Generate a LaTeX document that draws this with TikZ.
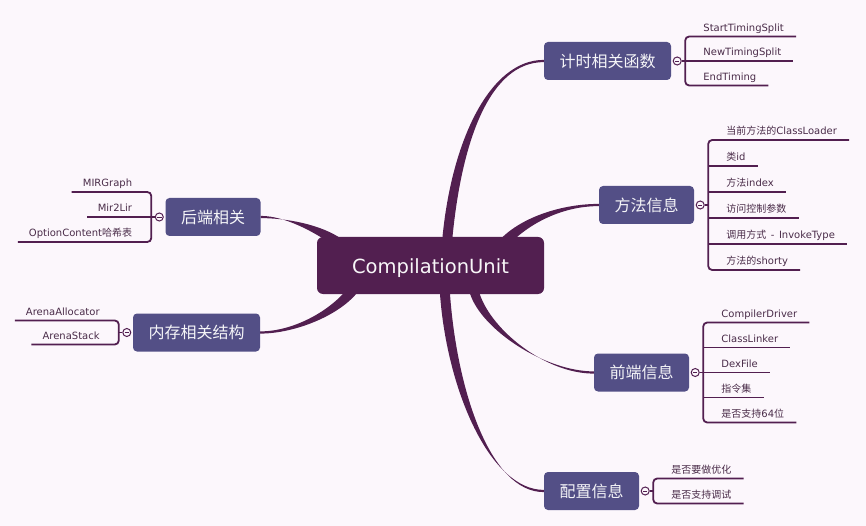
\documentclass[tikz,border=0pt]{standalone}
\usepackage{fontspec}
\setmainfont{DejaVu Sans}
\newfontfamily\cjk{Noto Sans CJK SC}
\usetikzlibrary{calc}

\definecolor{paper}{HTML}{FCF7FC}
\definecolor{plum}{HTML}{521F50}
\definecolor{slate}{HTML}{534F86}
\definecolor{leaftext}{HTML}{4A2C49}

\pgfdeclarelayer{paperlayer}
\pgfdeclarelayer{links}
\pgfsetlayers{paperlayer,links,main}

\newcommand{\zh}[1]{{\cjk #1}}
% tapered branch: start, start half width, control 1, control 2, end, end half width
\newcommand{\taper}[6]{%
  \fill[plum] ($#1+#2$) .. controls ($#3+#2$) and ($#4+#6$) .. ($#5+#6$)
    -- ($#5-#6$) .. controls ($#4-#6$) and ($#3-#2$) .. ($#1-#2$) -- cycle;}

\begin{document}
\begin{tikzpicture}[
x=1pt, y=-1pt,
root/.style={fill=plum, text=white!96!plum, rounded corners=6pt, minimum width=227pt, minimum height=57pt, inner sep=0pt, text height=20.5pt, text depth=4.5pt, font=\fontsize{19.5}{23}\selectfont},
topic/.style={fill=slate, text=white!94!slate, rounded corners=4pt, minimum height=38pt, inner xsep=15.5pt, inner ysep=0pt, font=\cjk\fontsize{16}{19}\selectfont},
fold/.style={circle, draw=plum, line width=1pt, fill=paper, minimum size=8pt, inner sep=0pt,
  path picture={\draw[plum, line width=0.8pt] ([xshift=-2.2pt]path picture bounding box.center) -- ([xshift=2.2pt]path picture bounding box.center);}},
leaf/.style={font=\fontsize{10}{12}\selectfont, text=leaftext, inner xsep=0pt, inner ysep=2.5pt, text height=7.5pt, text depth=2.5pt},
uline/.style={plum, line width=1.8pt, rounded corners=4pt}
]
\useasboundingbox (0,0) rectangle (866,526);
\begin{pgfonlayer}{paperlayer}
\fill[paper] (0,0) rectangle (866,526);
\end{pgfonlayer}

\node[root] (cu) at (430.5,265.5) {CompilationUnit};

% right side
\node[topic] (timing) at (607.5,61) {计时相关函数};
\node[fold] (timing-f) at ($(timing.east)+(6,0)$) {};
\coordinate (timing-b) at ($(timing-f)+(8,0)$);
\foreach \lbl [count=\i] in {StartTimingSplit, NewTimingSplit, EndTiming}
  \node[leaf, anchor=south west] (timing-\i) at ($(timing-b)+(18,{(\i-2)*24.5})$) {\lbl};
\draw[uline] (timing-f) -- (timing-b);
\draw[uline] ($(timing-1.south east)+(12,0)$) -- (timing-1.south -| timing-b) -- (timing-3.south -| timing-b) -- ($(timing-3.south east)+(12,0)$);
\draw[uline] (timing-b |- timing-2.south) -- ($(timing-2.south east)+(12,0)$);

\node[topic] (method) at (646.5,205) {方法信息};
\node[fold] (method-f) at ($(method.east)+(6,0)$) {};
\coordinate (method-b) at ($(method-f)+(8,0)$);
\foreach \lbl [count=\i] in {\zh{当前方法的}ClassLoader, \zh{类}id, \zh{方法}index, \zh{访问控制参数}, \zh{调用方式}\hspace{4.5pt}-\hspace{4.5pt}InvokeType, \zh{方法的}shorty}
  \node[leaf, anchor=south west] (method-\i) at ($(method-b)+(18,{(\i-3.5)*26})$) {\lbl};
\draw[uline] (method-f) -- (method-b);
\draw[uline] ($(method-1.south east)+(12,0)$) -- (method-1.south -| method-b) -- (method-6.south -| method-b) -- ($(method-6.south east)+(12,0)$);
\foreach \i in {2,...,5}
  \draw[uline] (method-b |- method-\i.south) -- ($(method-\i.south east)+(12,0)$);

\node[topic] (front) at (641.5,372.5) {前端信息};
\node[fold] (front-f) at ($(front.east)+(6,0)$) {};
\coordinate (front-b) at ($(front-f)+(8,0)$);
\foreach \lbl [count=\i] in {CompilerDriver, ClassLinker, DexFile, \zh{指令集}, \zh{是否支持}64\zh{位}}
  \node[leaf, anchor=south west] (front-\i) at ($(front-b)+(18,{(\i-3)*25})$) {\lbl};
\draw[uline] (front-f) -- (front-b);
\draw[uline] ($(front-1.south east)+(12,0)$) -- (front-1.south -| front-b) -- (front-5.south -| front-b) -- ($(front-5.south east)+(12,0)$);
\foreach \i in {2,3,4}
  \draw[uline] (front-b |- front-\i.south) -- ($(front-\i.south east)+(12,0)$);

\node[topic] (config) at (591.5,491) {配置信息};
\node[fold] (config-f) at ($(config.east)+(6,0)$) {};
\coordinate (config-b) at ($(config-f)+(8,0)$);
\foreach \lbl [count=\i] in {\zh{是否要做优化}, \zh{是否支持调试}}
  \node[leaf, anchor=south west] (config-\i) at ($(config-b)+(18,{(\i-1.5)*25})$) {\lbl};
\draw[uline] (config-f) -- (config-b);
\draw[uline] ($(config-1.south east)+(12,0)$) -- (config-1.south -| config-b) -- (config-2.south -| config-b) -- ($(config-2.south east)+(12,0)$);

% left side
\node[topic] (back) at (213,217) {后端相关};
\node[fold] (back-f) at ($(back.west)+(-6,0)$) {};
\coordinate (back-b) at ($(back-f)+(-8,0)$);
\foreach \lbl [count=\i] in {MIRGraph, Mir2Lir, OptionContent\zh{哈希表}}
  \node[leaf, anchor=south east] (back-\i) at ($(back-b)+(-19,{(\i-2)*25})$) {\lbl};
\draw[uline] (back-f) -- (back-b);
\draw[uline] ($(back-1.south west)+(-11,0)$) -- (back-1.south -| back-b) -- (back-3.south -| back-b) -- ($(back-3.south west)+(-11,0)$);
\draw[uline] (back-b |- back-2.south) -- ($(back-2.south west)+(-11,0)$);

\node[topic] (mem) at (196.5,332.5) {内存相关结构};
\node[fold] (mem-f) at ($(mem.west)+(-6,0)$) {};
\coordinate (mem-b) at ($(mem-f)+(-8,0)$);
\foreach \lbl [count=\i] in {ArenaAllocator, ArenaStack}
  \node[leaf, anchor=south east] (mem-\i) at ($(mem-b)+(-19,{(\i-1.5)*24})$) {\lbl};
\draw[uline] (mem-f) -- (mem-b);
\draw[uline] ($(mem-1.south west)+(-11,0)$) -- (mem-1.south -| mem-b) -- (mem-2.south -| mem-b) -- ($(mem-2.south west)+(-11,0)$);

% branches
\begin{pgfonlayer}{links}
\coordinate (s-timing) at ($(cu.north)+(17,0)$);
\coordinate (s-method) at ($(cu.north)+(71.5,8)$);
\coordinate (s-front) at ($(cu.south)+(44.5,0)$);
\coordinate (s-config) at ($(cu.south)+(14.5,0)$);
\coordinate (s-back) at ($(cu.north west)+(23,7)$);
\coordinate (s-mem) at ($(cu.south west)+(39,-8)$);
\taper{(s-timing)}{(5,0)}{(457,140)}{(490,61)}{(timing.west)}{(0,1.1)}
\taper{(s-method)}{(3.5,3.5)}{(522,222)}{(560,205)}{(method.west)}{(0,1.1)}
\taper{(s-front)}{(4.8,0)}{(487,330)}{(545,372.5)}{(front.west)}{(0,1.1)}
\taper{(s-config)}{(5,0)}{(452,390)}{(490,491)}{(config.west)}{(0,1.1)}
\taper{(s-back)}{(3,-4)}{(318,228)}{(285,217)}{(back.east)}{(0,1.1)}
\taper{(s-mem)}{(4.1,2.9)}{(338,312)}{(295,332.5)}{(mem.east)}{(0,1.1)}
\end{pgfonlayer}
\end{tikzpicture}
\end{document}
